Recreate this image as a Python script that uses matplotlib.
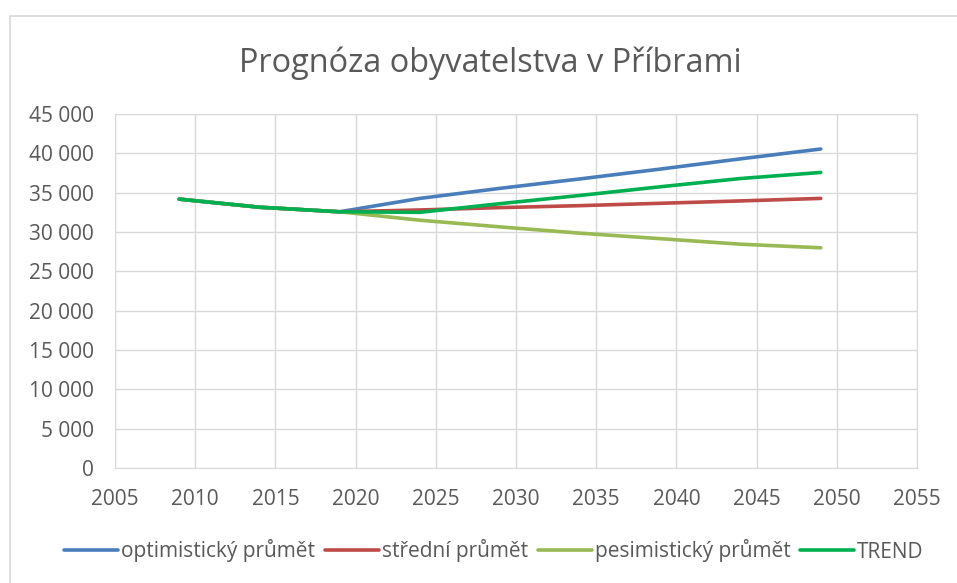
import matplotlib
matplotlib.use("Agg")
import matplotlib.pyplot as plt
from matplotlib.patches import Rectangle

plt.rcParams['font.family'] = ['Open Sans', 'DejaVu Sans']

years = [2009, 2014, 2019, 2024, 2029, 2034, 2039, 2044, 2049]
optimisticky = [34180, 33150, 32570, 34270, 35550, 36750, 38000, 39300, 40550]
stredni = [34180, 33150, 32570, 32800, 33100, 33350, 33650, 33950, 34270]
pesimisticky = [34180, 33150, 32570, 31500, 30650, 29850, 29150, 28450, 27990]
trend = [34180, 33150, 32570, 32500, 33600, 34650, 35750, 36800, 37570]

series = [
    ("optimistický průmět", optimisticky, "#4A7EBB"),
    ("střední průmět", stredni, "#BE4B48"),
    ("pesimistický průmět", pesimisticky, "#98B954"),
    ("TREND", trend, "#00B050"),
]

fig = plt.figure(figsize=(9.57, 5.83), dpi=100)
fig.patches.append(Rectangle((10/957, -0.05), 1.1, 1 - 16/583 + 0.05,
                             transform=fig.transFigure, fill=False, edgecolor="#D9D9D9", linewidth=1.2))
ax = fig.add_axes([115/957, 1-468/583, (917-115)/957, (468-114)/583])

for name, vals, col in series:
    ax.plot(years, vals, color=col, linewidth=2.6, label=name, solid_capstyle='round')

ax.set_xlim(2005, 2055)
ax.set_ylim(0, 45000)
ax.set_xticks(range(2005, 2056, 5))
ax.set_yticks(range(0, 45001, 5000))
ax.set_yticklabels(["0" if v == 0 else f"{v//1000} 000" for v in range(0, 45001, 5000)])
ax.grid(True, color="#D9D9D9", linewidth=1)
ax.set_axisbelow(True)
for s in ax.spines.values():
    s.set_color("#D9D9D9")
ax.tick_params(length=0, labelsize=15, colors="#595959")
ax.tick_params(axis='y', pad=15)
ax.tick_params(axis='x', pad=15)

fig.text(490/957, 1-63/583, "Prognóza obyvatelstva v Příbrami", ha="center", va="center",
         fontsize=23.4, color="#595959")

fig.legend(loc="center", bbox_to_anchor=(494/957, 1-551/583), ncol=4, frameon=False,
           fontsize=15, handlelength=2.6, handletextpad=0.15, columnspacing=0.45,
           labelcolor="#595959")

fig.savefig("out.png", dpi=100)
